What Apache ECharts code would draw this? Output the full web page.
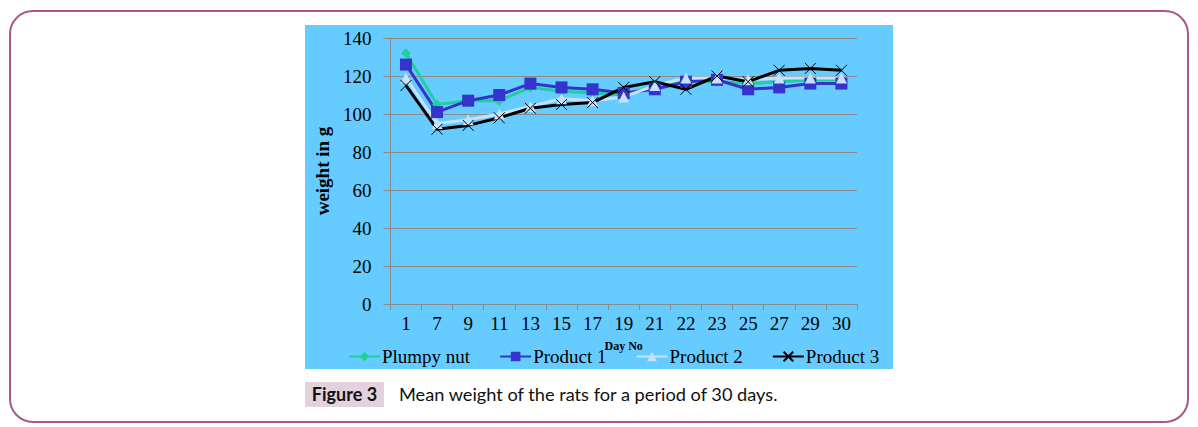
<!DOCTYPE html>
<html>
<head>
<meta charset="utf-8">
<script src="https://cdn.jsdelivr.net/npm/echarts@6/dist/echarts.min.js"></script>
<style>
  html, body { margin: 0; padding: 0; background: #ffffff; }
  body { width: 1198px; height: 427px; position: relative; overflow: hidden; }
  #frame { position: absolute; left: 9px; top: 10px; width: 1176px; height: 409px;
    border: 2px solid #a9588b; border-radius: 24px; }
  #chart { position: absolute; left: 305px; top: 25px; width: 588px; height: 344px; }
  #figlabel { position: absolute; left: 305px; top: 382px; width: 79px; height: 25px;
    background: #e3d1dd; font-family: Lato, "Open Sans", sans-serif; font-weight: bold;
    font-size: 18px; line-height: 25px; text-align: center; color: #111; }
  #figtext { position: absolute; left: 399px; top: 382px; height: 25px; line-height: 25px;
    font-family: Lato, "Open Sans", sans-serif; font-size: 18.2px; color: #111; white-space: nowrap; }
</style>
</head>
<body>
<div id="frame"></div>
<div id="chart"></div>
<div id="figlabel">Figure 3</div>
<div id="figtext">Mean weight of the rats for a period of 30 days.</div>
<script>
const days = ['1','7','9','11','13','15','17','19','21','22','23','25','27','29','30'];
const plumpyNut = [132,105,107,107,114,112,111,110,115,117,117,116,117,118,118];
const product1  = [126,101,107,110,116,114,113,111,113,117,118,113,114,116,116];
const product2  = [119,95,97,100,104,108,107,109,115,119,119,118,119,119,119];
const product3  = [115,92,94,98,103,105,106,114,117,113,120,117,123,124,123];
const seriesNames = ['Plumpy nut','Product 1','Product 2','Product 3'];
const yTicks = { min: 0, max: 140, interval: 20 };

const serif = '"Liberation Serif", "DejaVu Serif", serif';
const xMark = 'path://M0,0L10,10M10,0L0,10';

const chart = echarts.init(document.getElementById('chart'), null, { renderer: 'svg' });
chart.setOption({
  backgroundColor: '#66ccff',
  animation: false,
  grid: { left: 80, top: 13, right: 36, bottom: 65 },
  legend: {
    left: 43, top: 322, width: 570, padding: 0, itemWidth: 31, itemHeight: 12, itemGap: 29,
    textStyle: { fontFamily: serif, fontSize: 19, color: '#000', padding: [0, 0, 0, -3] },
    data: seriesNames
  },
  xAxis: {
    type: 'category', data: days, boundaryGap: true,
    name: 'Day No', nameLocation: 'middle', nameGap: 36,
    nameTextStyle: { fontFamily: serif, fontSize: 12, fontWeight: 'bold', color: '#000' },
    axisLine: { lineStyle: { color: '#8a8a8a', width: 1 } },
    axisTick: { show: true, length: 6, lineStyle: { color: '#8a8a8a' } },
    axisLabel: { fontFamily: serif, fontSize: 19, color: '#000', margin: 10 }
  },
  yAxis: {
    type: 'value', min: yTicks.min, max: yTicks.max, interval: yTicks.interval,
    name: 'weight in g', nameLocation: 'middle', nameGap: 52,
    nameTextStyle: { fontFamily: serif, fontSize: 19, fontWeight: 'bold', color: '#000' },
    axisLine: { show: true, lineStyle: { color: '#8a8a8a', width: 1 } },
    axisTick: { show: true, length: 7, lineStyle: { color: '#8a8a8a' } },
    axisLabel: { fontFamily: serif, fontSize: 19, color: '#000', margin: 19 },
    splitLine: { lineStyle: { color: '#8f8a85', width: 1 } }
  },
  series: [
    { name: seriesNames[0], type: 'line', data: plumpyNut, symbol: 'diamond', symbolSize: 10,
      color: '#1fcf9c', lineStyle: { width: 3 } },
    { name: seriesNames[1], type: 'line', data: product1, symbol: 'rect', symbolSize: 12,
      color: '#3434cc', lineStyle: { width: 3 } },
    { name: seriesNames[2], type: 'line', data: product2, symbol: 'triangle', symbolSize: 11,
      color: '#c4e2fb', lineStyle: { width: 3 } },
    { name: seriesNames[3], type: 'line', data: product3, symbol: xMark, symbolSize: 11,
      color: '#000000', lineStyle: { width: 3, color: '#000000' },
      itemStyle: { color: '#000000', borderColor: '#000000', borderWidth: 1 } }
  ]
});
</script>
</body>
</html>
